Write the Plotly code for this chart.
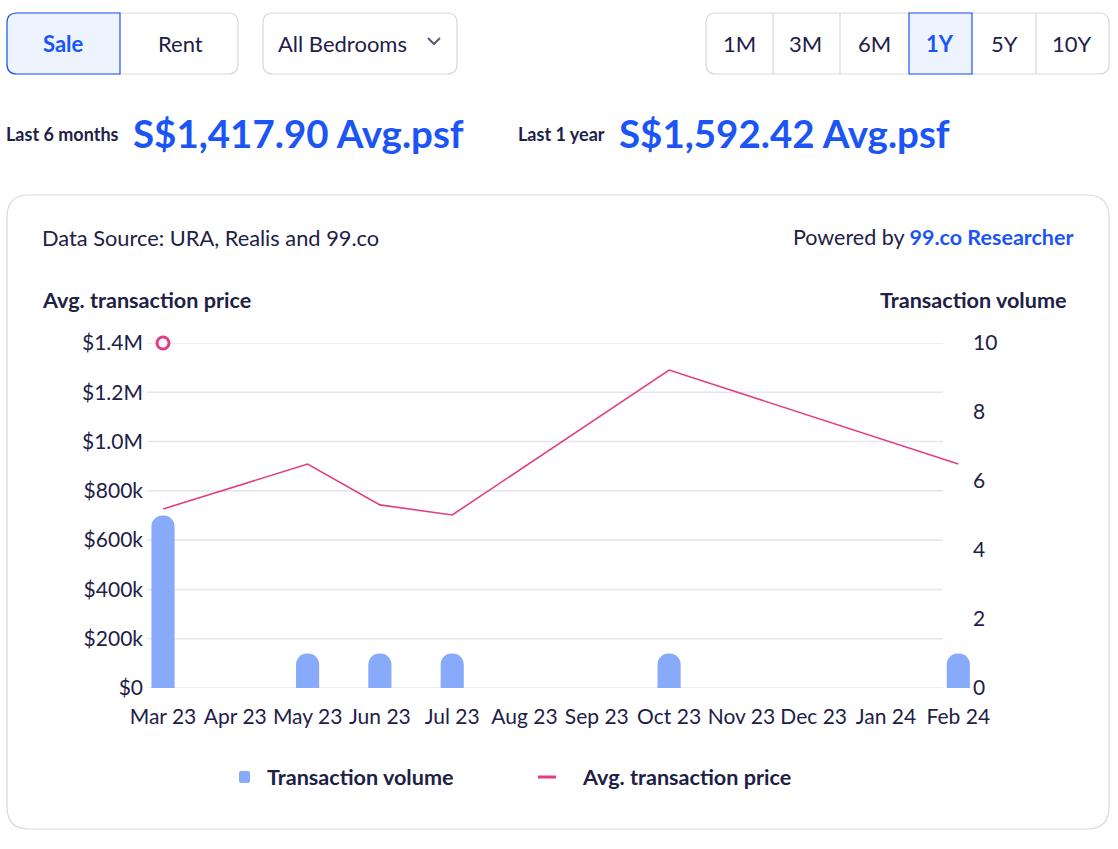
import plotly.graph_objects as go

W, H = 1118, 849

# ---------------- data ----------------
months = ["Mar 23", "Apr 23", "May 23", "Jun 23", "Jul 23", "Aug 23", "Sep 23",
          "Oct 23", "Nov 23", "Dec 23", "Jan 24", "Feb 24"]
volume = [5, 0, 1, 1, 1, 0, 0, 1, 0, 0, 0, 1]
avg_price = [726000, None, 909000, 743000, 702000, None, None, 1290000, None, None, None, 909000]
highlight_month = ["Mar 23"]
highlight_value = [1400000]
price_ticks = [0, 200000, 400000, 600000, 800000, 1000000, 1200000, 1400000]
price_ticklabels = ["$0", "$200k", "$400k", "$600k", "$800k", "$1.0M", "$1.2M", "$1.4M"]
volume_ticks = [0, 2, 4, 6, 8, 10]
periods = ["1M", "3M", "6M", "1Y", "5Y", "10Y"]

# ---------------- style ----------------
FONT = "Lato"
NAVY = "#1E2147"
BLUE = "#1B55F5"
GREY = "#D7D7E1"
GRID = "#E6E6ED"
SEL = "#EDF3FF"
BAR = "#88AAFB"
PINK = "#E23D84"


def px(x):
    return x / W


def py(y):
    return 1 - y / H


def rrect(x0, y0, x1, y1, r=(10, 10, 10, 10)):
    tl, tr, br, bl = r

    def P(x, y):
        return f"{px(x):.5f},{py(y):.5f}"
    s = f"M {P(x0 + tl, y0)} L {P(x1 - tr, y0)} Q {P(x1, y0)} {P(x1, y0 + tr)} "
    s += f"L {P(x1, y1 - br)} Q {P(x1, y1)} {P(x1 - br, y1)} "
    s += f"L {P(x0 + bl, y1)} Q {P(x0, y1)} {P(x0, y1 - bl)} "
    s += f"L {P(x0, y0 + tl)} Q {P(x0, y0)} {P(x0 + tl, y0)} Z"
    return s


shapes = []


def add_path(path, line_color=GREY, fill="rgba(0,0,0,0)", width=1.2, layer="below"):
    shapes.append(dict(type="path", path=path, xref="paper", yref="paper",
                       line=dict(color=line_color, width=width), fillcolor=fill, layer=layer))


# Sale / Rent segmented control
add_path(rrect(7, 13, 238, 74), fill="white")
add_path(rrect(7, 13, 120, 74, (10, 0, 0, 10)), line_color=BLUE, fill=SEL)
# dropdown
add_path(rrect(263, 13, 457, 74), fill="white")
shapes.append(dict(type="path", xref="paper", yref="paper",
                   path=f"M {px(428)},{py(38)} L {px(434)},{py(44)} L {px(440)},{py(38)}",
                   line=dict(color="#5B5D75", width=2)))
# time range control
add_path(rrect(706, 13, 1109, 74), fill="white")
for xd in [773, 840, 1036]:
    shapes.append(dict(type="line", xref="paper", yref="paper", x0=px(xd), x1=px(xd),
                       y0=py(13), y1=py(74), line=dict(color=GREY, width=1.2)))
add_path(rrect(909, 13, 972, 74, (0, 0, 0, 0)), line_color=BLUE, fill=SEL)
# card
add_path(rrect(7, 195, 1109, 829, (22, 22, 22, 22)), width=1.2)

# gridlines
for v in price_ticks:
    shapes.append(dict(type="line", xref="paper", yref="y2", x0=px(147), x1=px(943),
                       y0=v, y1=v, line=dict(color=GRID, width=1.6), layer="below"))

# legend marks
shapes.append(dict(type="path", xref="paper", yref="paper", path=rrect(239, 771, 250, 783, (2, 2, 2, 2)),
                   fillcolor=BAR, line=dict(width=0)))
shapes.append(dict(type="line", xref="paper", yref="paper", x0=px(538), x1=px(556),
                   y0=py(777), y1=py(777), line=dict(color=PINK, width=3)))

annotations = []


def txt(x, y, text, size=21.5, color=NAVY, anchor="left", bold=False):
    if bold:
        text = f"<b>{text}</b>"
    if anchor == "left":
        x -= 3
    elif anchor == "right":
        x += 3
    annotations.append(dict(x=px(x), y=py(y), xref="paper", yref="paper", text=text,
                            showarrow=False, xanchor=anchor, yanchor="middle",
                            font=dict(family=FONT, size=size, color=color)))


txt(63, 43, "Sale", 22, BLUE, "center", True)
txt(180, 43, "Rent", 22, NAVY, "center")
txt(279, 43, "All Bedrooms", 22, NAVY, "left")
period_x = [739, 806, 874, 940, 1004, 1072]
for p, xc in zip(periods, period_x):
    if p == "1Y":
        txt(xc, 43, p, 22, BLUE, "center", True)
    else:
        txt(xc, 43, p, 22, NAVY, "center")

txt(7, 134, "Last 6 months", 18, NAVY, "left", True)
txt(134, 133, "S$1,417.90 Avg.psf", 38.5, BLUE, "left", True)
txt(519, 134, "Last 1 year", 18, NAVY, "left", True)
txt(620, 133, "S$1,592.42 Avg.psf", 38.5, BLUE, "left", True)

txt(43, 237, "Data Source: URA, Realis and 99.co", 21.8, NAVY, "left")
txt(1073, 237, f"Powered by <span style='color:{BLUE}'><b>99.co Researcher</b></span>", 21.5, NAVY, "right")
txt(43, 300, "Avg. transaction price", 21.6, NAVY, "left", True)
txt(1066, 300, "Transaction volume", 21.6, NAVY, "right", True)

txt(268, 777, "Transaction volume", 21.6, NAVY, "left", True)
txt(583, 777, "Avg. transaction price", 21.6, NAVY, "left", True)

# ---------------- traces ----------------
fig = go.Figure()
fig.add_trace(go.Bar(x=months, y=volume, marker=dict(color=BAR, line=dict(width=0)),
                     yaxis="y", showlegend=False, name="Transaction volume"))
fig.add_trace(go.Scatter(x=months, y=avg_price, mode="lines", connectgaps=True,
                         line=dict(color=PINK, width=1.6), yaxis="y2", showlegend=False,
                         name="Avg. transaction price"))
fig.add_trace(go.Scatter(x=highlight_month, y=highlight_value, mode="markers", yaxis="y2",
                         marker=dict(size=12, color="white", line=dict(color=PINK, width=3)),
                         cliponaxis=False, showlegend=False))

x0d, x1d = 147, 970
step = 72.3
TICKSIZE = 21
fig.update_layout(
    width=W, height=H, autosize=False,
    margin=dict(l=0, r=0, t=0, b=0),
    paper_bgcolor="white", plot_bgcolor="rgba(0,0,0,0)",
    font=dict(family=FONT, color=NAVY, size=TICKSIZE),
    bargap=0.68, barcornerradius="50%",
    xaxis=dict(domain=[px(x0d), px(x1d)], type="category", categoryorder="array",
               categoryarray=months, range=[-(163 - x0d) / step, (x1d - 163) / step],
               showgrid=False, zeroline=False, showline=False, ticks="",
               tickfont=dict(family=FONT, size=TICKSIZE, color=NAVY), ticklabelstandoff=14,
               automargin=False, fixedrange=True),
    yaxis=dict(domain=[py(688), py(343)], range=[0, 10], side="right",
               tickvals=volume_ticks, showgrid=False, zeroline=False, showline=False,
               tickfont=dict(family=FONT, size=TICKSIZE, color=NAVY), ticklabelstandoff=2,
               automargin=False),
    yaxis2=dict(domain=[py(688), py(343)], range=[0, 1400000], overlaying="y", side="left",
                anchor="x",
                tickvals=price_ticks, ticktext=price_ticklabels, showgrid=False,
                zeroline=False, showline=False, ticklabelstandoff=3,
                tickfont=dict(family=FONT, size=TICKSIZE, color=NAVY), automargin=False),
    shapes=shapes, annotations=annotations, showlegend=False,
)

fig.write_html("out.html")
